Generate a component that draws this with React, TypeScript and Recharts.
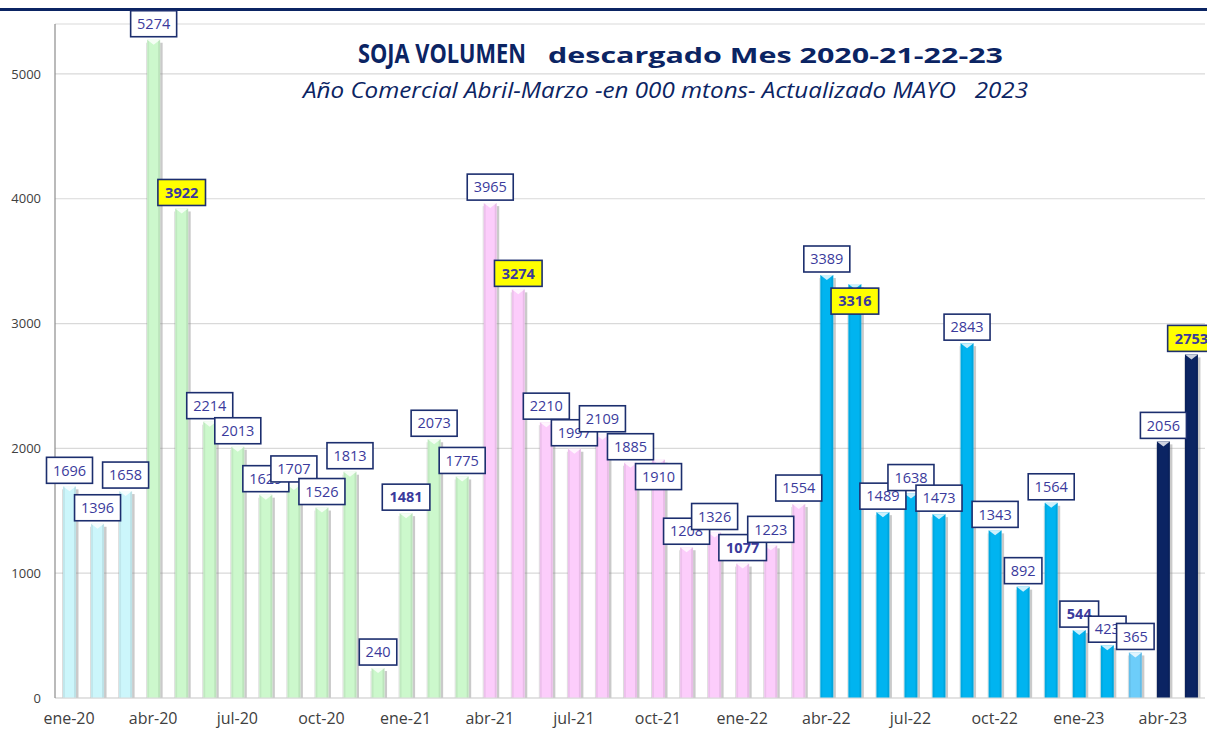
import React from "react";
import { BarChart, Bar, XAxis, YAxis, CartesianGrid, LabelList } from "recharts";

// Meses (ene-20 a may-23)
const meses = [
  "ene-20", "feb-20", "mar-20", "abr-20", "may-20", "jun-20", "jul-20", "ago-20", "sep-20", "oct-20", "nov-20", "dic-20",
  "ene-21", "feb-21", "mar-21", "abr-21", "may-21", "jun-21", "jul-21", "ago-21", "sep-21", "oct-21", "nov-21", "dic-21",
  "ene-22", "feb-22", "mar-22", "abr-22", "may-22", "jun-22", "jul-22", "ago-22", "sep-22", "oct-22", "nov-22", "dic-22",
  "ene-23", "feb-23", "mar-23", "abr-23", "may-23",
];

// Volumen descargado, miles de toneladas
const volumen = [
  1696, 1396, 1658, 5274, 3922, 2214, 2013, 1629, 1707, 1526, 1813, 240,
  1481, 2073, 1775, 3965, 3274, 2210, 1997, 2109, 1885, 1910, 1208, 1326,
  1077, 1223, 1554, 3389, 3316, 1489, 1638, 1473, 2843, 1343, 892, 1564,
  544, 423, 365, 2056, 2753,
];

// Campaña comercial (abril-marzo) de cada mes
const campana = [
  "19/20", "19/20", "19/20",
  "20/21", "20/21", "20/21", "20/21", "20/21", "20/21", "20/21", "20/21", "20/21", "20/21", "20/21", "20/21",
  "21/22", "21/22", "21/22", "21/22", "21/22", "21/22", "21/22", "21/22", "21/22", "21/22", "21/22", "21/22",
  "22/23", "22/23", "22/23", "22/23", "22/23", "22/23", "22/23", "22/23", "22/23", "22/23", "22/23", "22/23",
  "23/24", "23/24",
];

// Mayos destacados en amarillo y otros valores en negrita
const destacados = ["may-20", "may-21", "may-22", "may-23"];
const negritas = ["ene-21", "ene-22", "ene-23"];

const yTicks = [0, 1000, 2000, 3000, 4000, 5000];

const data = meses.map((mes, i) => ({ mes, volumen: volumen[i], campana: campana[i] }));

const coloresCampana: Record<string, string> = {
  "19/20": "#ccf6fb",
  "20/21": "#ccf8cc",
  "21/22": "#fccdfb",
  "22/23": "#00b4f0",
  "23/24": "#0b2463",
};
const colorMar23 = "#6dcdfa";
// etiquetas corridas hacia abajo en el original (para no pisarse)
const etiquetasAbajo = ["oct-21", "may-22"];

const colorBarra = (i: number) => (meses[i] === "mar-23" ? colorMar23 : coloresCampana[campana[i]]);

const FONT = "'Open Sans', sans-serif";
const NAVY = "#0b2463";

const BarraShape = (props: any) => {
  const { x, y, width, height, index } = props;
  if (!height || height <= 0) return null;
  const fill = colorBarra(index);
  return (
    <g>
      <rect x={x + width} y={y + 3} width={2.5} height={height - 3} fill="#8a8a8a" opacity={0.45} />
      <rect x={x - 1} y={y + 3} width={1} height={height - 3} fill="#8a8a8a" opacity={0.3} />
      <rect x={x} y={y} width={width} height={height} fill={fill} />
      <rect x={x} y={y} width={2} height={height} fill="#000" opacity={0.06} />
      <rect x={x + width - 2} y={y} width={2} height={height} fill="#000" opacity={0.08} />
      <path d={`M${x},${y} L${x + width},${y} L${x + width / 2},${y + 5} Z`} fill="#ffffff" opacity={0.8} />
    </g>
  );
};

const Etiqueta = (props: any) => {
  const { x, y, width, value } = props;
  const i = props.index ?? volumen.indexOf(value);
  const mes = meses[i];
  const amarillo = destacados.includes(mes);
  const negrita = amarillo || negritas.includes(mes);
  const txt = String(value);
  const w = txt.length * (negrita ? 8.9 : 8.5) + 12;
  const h = 26;
  const cx = x + width / 2;
  const top = etiquetasAbajo.includes(mes) ? y + 4 : y - 3 - h;
  return (
    <g>
      <rect x={cx - w / 2} y={top} width={w} height={h} fill={amarillo ? "#ffff00" : "#ffffff"} stroke="#1c2e6e" strokeWidth={1.6} />
      <text
        x={cx}
        y={top + h / 2}
        dy="0.36em"
        textAnchor="middle"
        fontFamily={FONT}
        fontSize={14.5}
        fontWeight={negrita ? 700 : 400}
        fill="#3a3a9c"
      >
        {txt}
      </text>
    </g>
  );
};

export default function App() {
  return (
    <div style={{ position: "absolute", left: 0, top: 0, width: 1207, height: 731, background: "#fff", fontFamily: FONT }}>
      <div style={{ position: "absolute", left: 0, top: 8, width: 1207, height: 3, background: NAVY }} />
      <BarChart
        width={1207}
        height={731}
        data={data}
        margin={{ top: 24, right: 2, bottom: 3, left: 0 }}
        barCategoryGap={8}
      >
        <CartesianGrid vertical={false} stroke="#d9d9d9" strokeWidth={1.2} />
        <XAxis
          dataKey="mes"
          interval={2}
          tickLine={false}
          axisLine={{ stroke: "#d9d9d9" }}
          tickSize={0}
          tickMargin={15}
          height={30}
          tick={{ fontSize: 16, fill: "#404040", fontFamily: FONT }}
        />
        <YAxis
          domain={[0, 5400]}
          ticks={yTicks}
          width={55}
          tickLine={false}
          tickSize={0}
          tickMargin={14}
          axisLine={{ stroke: "#8c8c8c", strokeWidth: 1.2 }}
          tick={{ fontSize: 13, fill: "#404040", fontFamily: FONT }}
        />
        <Bar dataKey="volumen" barSize={13} shape={BarraShape} isAnimationActive={false}>
          <LabelList dataKey="volumen" content={Etiqueta} />
        </Bar>
      </BarChart>
      <svg width={1207} height={731} style={{ position: "absolute", left: 0, top: 0, pointerEvents: "none", whiteSpace: "pre" }}>
        <text x={358} y={63} fontFamily={FONT} fontSize={27} fontWeight={700} fill={NAVY} textLength={168} lengthAdjust="spacingAndGlyphs">
          SOJA VOLUMEN
        </text>
        <text x={548} y={63} fontFamily={FONT} fontSize={22} fontWeight={700} fill={NAVY} textLength={455} lengthAdjust="spacingAndGlyphs">
          descargado Mes 2020-21-22-23
        </text>
        <text x={303} y={98} fontFamily={FONT} fontSize={22} fontStyle="italic" fill={NAVY} textLength={725} lengthAdjust="spacingAndGlyphs" style={{ whiteSpace: "pre" }}>
          {"Año Comercial Abril-Marzo -en 000 mtons- Actualizado MAYO   2023"}
        </text>
      </svg>
    </div>
  );
}
